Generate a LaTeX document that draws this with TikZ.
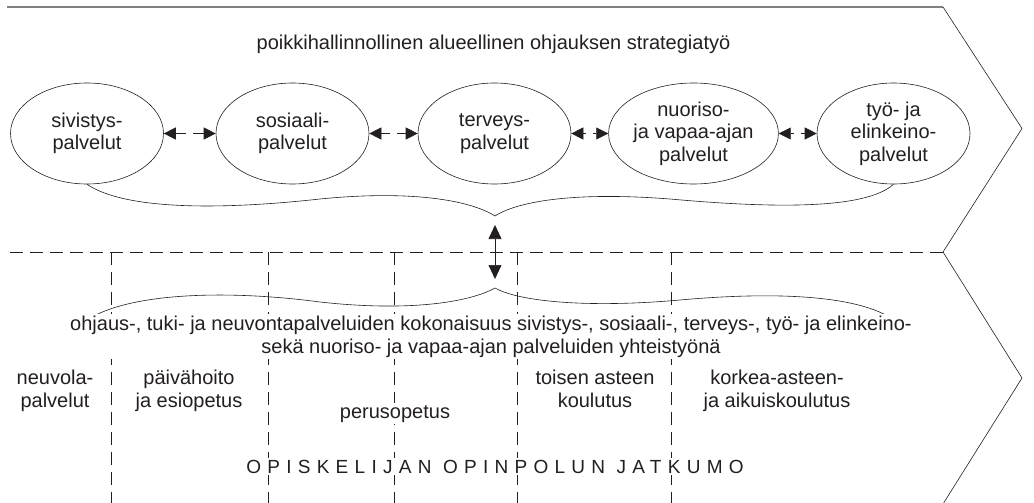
\documentclass[tikz,border=0pt]{standalone}
\usepackage{fontspec}
\setmainfont{Liberation Sans}
\usetikzlibrary{shapes.geometric,arrows.meta,calc}
\definecolor{ink}{HTML}{231F20}
\begin{document}
\begin{tikzpicture}[x=1pt,y=-1pt,
  every node/.style={text=ink},
  lbl/.style={align=center,inner sep=0pt,font=\fontsize{20}{22.5}\selectfont},
  textbg/.style={fill=white,inner sep=2pt},
  svc/.style={ellipse,draw=ink,line width=0.6pt,minimum width=153pt,minimum height=101pt,
    inner sep=0pt,align=center,font=\fontsize{20}{22.5}\selectfont},
  halflink/.style={draw=ink,line width=0.6pt,-{Triangle[length=12pt,width=12pt]},shorten <=3.5pt},
  vlink/.style={draw=ink,line width=0.7pt,
    {Triangle[length=14pt,width=13pt]}-{Triangle[length=14pt,width=13pt]}},
  guide/.style={draw=ink,line width=0.6pt,dash pattern=on 13pt off 7pt},
  frame/.style={draw=ink,line width=0.6pt},
  brace/.style={draw=ink,line width=0.6pt}]
\useasboundingbox (0,0) rectangle (1034,503);

% outer arrow-shaped frame
\coordinate (tl) at (7,7);
\coordinate (tr) at (943,7);
\coordinate (tip1) at (1022,128.5);
\coordinate (mr) at (943,252);
\coordinate (ml) at (10,252);
\coordinate (tip2) at (1022,378);
\coordinate (br) at (943,504);
\draw[draw=black!50,line width=1.6pt] (tl) -- (tr);
\draw[frame] (tr) -- (tip1) -- (mr);
\draw[frame] (mr) -- (tip2) -- (br);
\draw[guide] (ml) -- (mr);

% column separators
\foreach \i/\x in {1/111,2/268,3/394,4/517,5/671}{
  \coordinate (c\i t) at (\x,252);
  \coordinate (c\i b) at (\x,504);
  \draw[guide] (c\i t) -- (c\i b);
}

% strategy title
\node[lbl,anchor=base] (title) at (493.5,50) {poikkihallinnollinen alueellinen ohjauksen strategiatyö};

% service sectors
\node[svc] (siv) at (87,133.5) {sivistys-\\palvelut};
\node[svc] (sos) at (292.5,133.5) {sosiaali-\\palvelut};
\node[svc] (ter) at (494.5,133.5) {terveys-\\palvelut};
\node[svc] (nuo) at (693.5,133.5) {nuoriso-\\ja vapaa-ajan\\palvelut};
\node[svc] (tyo) at (893.5,133.5) {työ- ja\\elinkeino-\\palvelut};

% two-way links between neighbouring sectors
\foreach \a/\b/\m in {siv/sos/m1,sos/ter/m2,ter/nuo/m3,nuo/tyo/m4}{
  \coordinate (\m) at ($(\a.east)!0.5!(\b.west)$);
  \draw[halflink] (\m) -- (\a);
  \draw[halflink] (\m) -- (\b);
}

% upper brace
\coordinate (up) at (495,216);
\draw[brace] (siv.south) .. controls (125,210) and (220,210) .. (320,199)
  .. controls (410,190) and (470,200) .. (up)
  .. controls (520,200) and (580,192) .. (670,199)
  .. controls (770,208) and (865,210) .. (tyo.south);

% lower brace
\coordinate (lp) at (495,288);
\coordinate (lbl) at (87,320);
\coordinate (lbr) at (894,320);
\draw[brace] (lbl) .. controls (130,292) and (230,290) .. (320,302)
  .. controls (410,312) and (470,302) .. (lp)
  .. controls (520,302) and (590,308) .. (680,300)
  .. controls (780,291) and (860,296) .. (lbr);

% link between the two levels
\coordinate (va) at (495,225);
\coordinate (vb) at (495,279);
\draw[vlink] (va) -- (vb);

% cooperation text
\node[lbl,textbg,anchor=base] (coop) at (491,353)
  {ohjaus-, tuki- ja neuvontapalveluiden kokonaisuus sivistys-, sosiaali-, terveys-, työ- ja elinkeino-\\
   sekä nuoriso- ja vapaa-ajan palveluiden yhteistyönä};

% education stages
\node[lbl,textbg,anchor=base] (neu) at (55,407) {neuvola-\\palvelut};
\node[lbl,textbg,anchor=base] (pai) at (189,407) {päivähoito\\ja esiopetus};
\node[lbl,textbg,anchor=base] (per) at (395,418) {perusopetus};
\node[lbl,textbg,anchor=base] (toi) at (595,407) {toisen asteen\\koulutus};
\node[lbl,textbg,anchor=base] (kor) at (777,407) {korkea-asteen-\\ja aikuiskoulutus};

% study path
\node[textbg,anchor=base,font=\fontsize{19}{22}\selectfont\addfontfeatures{LetterSpace=33}] (path)
  at (495,473) {OPISKELIJAN OPINPOLUN JATKUMO};
\end{tikzpicture}
\end{document}
